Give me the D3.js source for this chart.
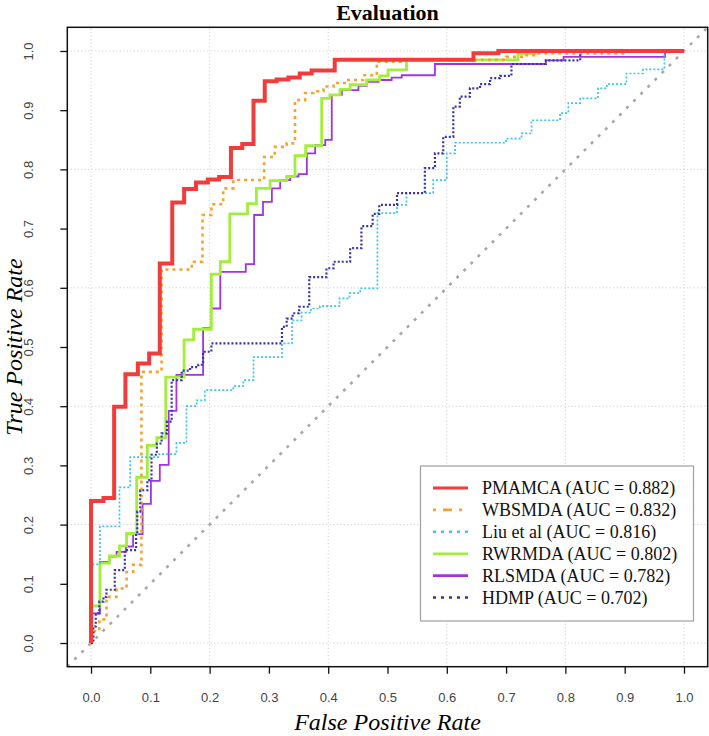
<!DOCTYPE html>
<html>
<head>
<meta charset="utf-8">
<script src="https://cdn.jsdelivr.net/npm/d3@7"></script>
<style>
  html, body { margin: 0; padding: 0; background: #fff; }
  svg { display: block; }
</style>
</head>
<body>
<svg id="chart" width="709" height="736"></svg>
<script>
// ---------------- DATA (fpr, tpr step vertices) ----------------
const seriesNames = ["PMAMCA (AUC = 0.882)", "WBSMDA (AUC = 0.832)", "Liu et al (AUC = 0.816)",
                     "RWRMDA (AUC = 0.802)", "RLSMDA (AUC = 0.782)", "HDMP (AUC = 0.702)"];

const pmamca = [[0,0],[0,0.24],[0.021,0.245],[0.039,0.399],[0.058,0.454],[0.079,0.472],[0.098,0.489],
  [0.116,0.641],[0.137,0.744],[0.157,0.767],[0.177,0.778],[0.197,0.783],[0.216,0.787],[0.236,0.836],
  [0.255,0.843],[0.274,0.916],[0.293,0.949],[0.313,0.952],[0.333,0.955],[0.352,0.962],[0.372,0.967],
  [0.411,0.985],[0.645,0.996],[0.687,1.0],[1,1]];

const wbsmda = [[0,0],[0,0.02],[0.014,0.04],[0.026,0.078],[0.043,0.092],[0.06,0.12],[0.071,0.132],
  [0.085,0.135],[0.085,0.458],[0.119,0.631],[0.17,0.644],[0.188,0.723],[0.203,0.741],[0.223,0.768],
  [0.240,0.782],[0.292,0.791],[0.292,0.821],[0.310,0.838],[0.330,0.844],[0.344,0.917],[0.361,0.929],
  [0.375,0.932],[0.392,0.940],[0.409,0.946],[0.431,0.951],[0.459,0.959],[0.482,0.982],[0.53,0.985],
  [0.70,0.99],[0.73,0.993],[0.75,0.996],[0.90,1.0],[1,1]];

const liu = [[0,0],[0,0.133],[0.015,0.197],[0.048,0.263],[0.066,0.314],[0.115,0.319],[0.144,0.338],
  [0.161,0.400],[0.178,0.41],[0.192,0.427],[0.240,0.434],[0.257,0.444],[0.274,0.483],[0.322,0.506],
  [0.339,0.545],[0.355,0.558],[0.371,0.565],[0.386,0.569],[0.419,0.582],[0.436,0.591],[0.454,0.599],
  [0.483,0.726],[0.516,0.740],[0.532,0.760],[0.577,0.782],[0.600,0.827],[0.614,0.845],[0.70,0.852],
  [0.726,0.861],[0.743,0.883],[0.791,0.895],[0.805,0.912],[0.825,0.920],[0.855,0.937],[0.870,0.944],
  [0.903,0.962],[0.931,0.969],[0.967,1.0],[1,1]];

const rwrmda = [[0,0],[0.001,0.0625],[0.015,0.135],[0.031,0.147],[0.048,0.164],[0.060,0.185],[0.077,0.28],
  [0.095,0.334],[0.111,0.347],[0.126,0.449],[0.157,0.512],[0.173,0.530],[0.203,0.623],[0.218,0.644],
  [0.234,0.725],[0.264,0.742],[0.279,0.768],[0.302,0.781],[0.330,0.788],[0.344,0.823],[0.362,0.84],
  [0.389,0.920],[0.403,0.926],[0.420,0.935],[0.437,0.943],[0.465,0.951],[0.487,0.958],[0.501,0.968],
  [0.532,0.985],[0.72,0.995],[0.749,1.0],[1,1]];

const rlsmda = [[0,0],[0.002,0.05],[0.015,0.137],[0.031,0.146],[0.043,0.154],[0.059,0.163],[0.071,0.184],
  [0.087,0.235],[0.101,0.274],[0.116,0.301],[0.131,0.392],[0.144,0.453],[0.189,0.532],[0.202,0.565],
  [0.218,0.627],[0.261,0.640],[0.275,0.723],[0.290,0.745],[0.305,0.768],[0.319,0.782],[0.336,0.788],
  [0.350,0.792],[0.364,0.827],[0.378,0.841],[0.395,0.85],[0.406,0.926],[0.423,0.934],[0.451,0.941],
  [0.465,0.948],[0.485,0.951],[0.507,0.955],[0.524,0.959],[0.580,0.978],[0.767,0.984],[0.797,0.99],
  [0.968,1.0],[1,1]];

const hdmp = [[0,0],[0.004,0.028],[0.008,0.05],[0.014,0.07],[0.021,0.078],[0.026,0.09],[0.040,0.123],
  [0.057,0.157],[0.076,0.185],[0.078,0.222],[0.083,0.258],[0.095,0.275],[0.102,0.318],[0.111,0.337],
  [0.119,0.354],[0.128,0.374],[0.136,0.444],[0.153,0.460],[0.167,0.466],[0.181,0.470],[0.189,0.492],
  [0.203,0.506],[0.322,0.534],[0.330,0.548],[0.340,0.557],[0.351,0.568],[0.368,0.618],[0.397,0.633],
  [0.409,0.644],[0.437,0.667],[0.456,0.704],[0.475,0.725],[0.486,0.740],[0.516,0.760],[0.563,0.802],
  [0.580,0.827],[0.594,0.855],[0.611,0.906],[0.622,0.923],[0.639,0.937],[0.656,0.944],[0.673,0.954],
  [0.69,0.958],[0.709,0.978],[0.767,0.984],[0.825,1.0],[1,1]];

const xTicks = [0.0,0.1,0.2,0.3,0.4,0.5,0.6,0.7,0.8,0.9,1.0];
const yTicks = [0.0,0.1,0.2,0.3,0.4,0.5,0.6,0.7,0.8,0.9,1.0];
const gridTicks = [0.0,0.2,0.4,0.6,0.8,1.0];

// ---------------- STYLES ----------------
const styles = [
  {data: pmamca, color: "#F23C3C", width: 4,   dash: null,   legDash: null,        legWidth: 3},
  {data: wbsmda, color: "#F7A12E", width: 2.6, dash: "3,4",  legDash: "3,7,9,7",   legWidth: 2.6},
  {data: liu,    color: "#3EC3EE", width: 1.7, dash: "2,2",  legDash: "3,5",       legWidth: 2.4},
  {data: rwrmda, color: "#A3EE3C", width: 2.8, dash: null,   legDash: null,        legWidth: 2.6},
  {data: rlsmda, color: "#A033E6", width: 1.8, dash: null,   legDash: null,        legWidth: 2.6},
  {data: hdmp,   color: "#3333B3", width: 2.2, dash: "2,2",  legDash: "3,5",       legWidth: 2.4}
];

const svg = d3.select("#chart");
const x = d3.scaleLinear().domain([-0.04, 1.04]).range([67.3, 707.7]);
const y = d3.scaleLinear().domain([-0.04, 1.04]).range([666.7, 27.3]);

// grid
const grid = svg.append("g");
grid.selectAll("line.gx").data(gridTicks).enter().append("line")
  .attr("x1", d => x(d)).attr("x2", d => x(d)).attr("y1", y(-0.04)).attr("y2", y(1.04))
  .attr("stroke", "#c8c8c8").attr("stroke-width", 1).attr("stroke-dasharray", "1,2.5");
grid.selectAll("line.gy").data(gridTicks).enter().append("line")
  .attr("y1", d => y(d)).attr("y2", d => y(d)).attr("x1", x(-0.04)).attr("x2", x(1.04))
  .attr("stroke", "#c8c8c8").attr("stroke-width", 1).attr("stroke-dasharray", "1,2.5");

// diagonal
svg.append("line")
  .attr("x1", x(-0.04)).attr("y1", y(-0.04)).attr("x2", x(1.04)).attr("y2", y(1.04))
  .attr("stroke", "#a8a8a8").attr("stroke-width", 2.6).attr("stroke-dasharray", "3,7");

// curves
const line = d3.line().x(d => x(d[0])).y(d => y(d[1])).curve(d3.curveStepAfter);
const drawOrder = [4, 3, 2, 1, 5, 0];
drawOrder.forEach(i => {
  const s = styles[i];
  svg.append("path").attr("d", line(s.data)).attr("fill", "none")
    .attr("stroke", s.color).attr("stroke-width", s.width)
    .attr("stroke-dasharray", s.dash)
    .attr("stroke-linejoin", "miter").attr("stroke-linecap", "butt");
});

// box
svg.append("rect").attr("x", x(-0.04)).attr("y", y(1.04))
  .attr("width", x(1.04) - x(-0.04)).attr("height", y(-0.04) - y(1.04))
  .attr("fill", "none").attr("stroke", "#111").attr("stroke-width", 1.5);

// axes
const xAxis = svg.append("g").attr("transform", `translate(0,${y(-0.04)})`)
  .call(d3.axisBottom(x).tickValues(xTicks).tickFormat(d3.format(".1f")).tickSize(7).tickPadding(19));
const yAxis = svg.append("g").attr("transform", `translate(${x(-0.04)},0)`)
  .call(d3.axisLeft(y).tickValues(yTicks).tickFormat(d3.format(".1f")).tickSize(7));
[xAxis, yAxis].forEach(g => {
  g.select(".domain").remove();
  g.selectAll(".tick line").attr("stroke", "#111").attr("stroke-width", 1.3);
  g.selectAll(".tick text").attr("font-family", "Liberation Sans, Arial, sans-serif")
    .attr("font-size", 13).attr("fill", "#444");
});
yAxis.selectAll(".tick text")
  .attr("x", 0).attr("y", 0).attr("dy", null)
  .attr("text-anchor", "middle")
  .attr("transform", "translate(-34,0) rotate(-90)");

// title and axis labels
svg.append("text").attr("x", (x(-0.04) + x(1.04)) / 2).attr("y", 20)
  .attr("text-anchor", "middle").attr("font-family", "Liberation Serif, Times New Roman, serif")
  .attr("font-weight", "bold").attr("font-size", 22).text("Evaluation");
svg.append("text").attr("x", (x(0) + x(1)) / 2).attr("y", 730)
  .attr("text-anchor", "middle").attr("font-family", "Liberation Serif, Times New Roman, serif")
  .attr("font-style", "italic").attr("font-size", 24).text("False Positive Rate");
svg.append("text").attr("transform", `translate(22,${(y(0) + y(1)) / 2}) rotate(-90)`)
  .attr("text-anchor", "middle").attr("font-family", "Liberation Serif, Times New Roman, serif")
  .attr("font-style", "italic").attr("font-size", 24).text("True Positive Rate");

// legend
const leg = svg.append("g");
leg.append("rect").attr("x", 420.5).attr("y", 466).attr("width", 273).attr("height", 155)
  .attr("fill", "#fff").attr("stroke", "#a0a0a0").attr("stroke-width", 1.2);
styles.forEach((s, i) => {
  const ry = 488 + i * 21.9;
  leg.append("line").attr("x1", 433).attr("x2", 468).attr("y1", ry).attr("y2", ry)
    .attr("stroke", s.color).attr("stroke-width", s.legWidth).attr("stroke-dasharray", s.legDash);
  leg.append("text").attr("x", 482).attr("y", ry + 6)
    .attr("font-family", "Liberation Serif, Times New Roman, serif").attr("font-size", 18)
    .attr("fill", "#111").text(seriesNames[i]);
});
</script>
</body>
</html>
